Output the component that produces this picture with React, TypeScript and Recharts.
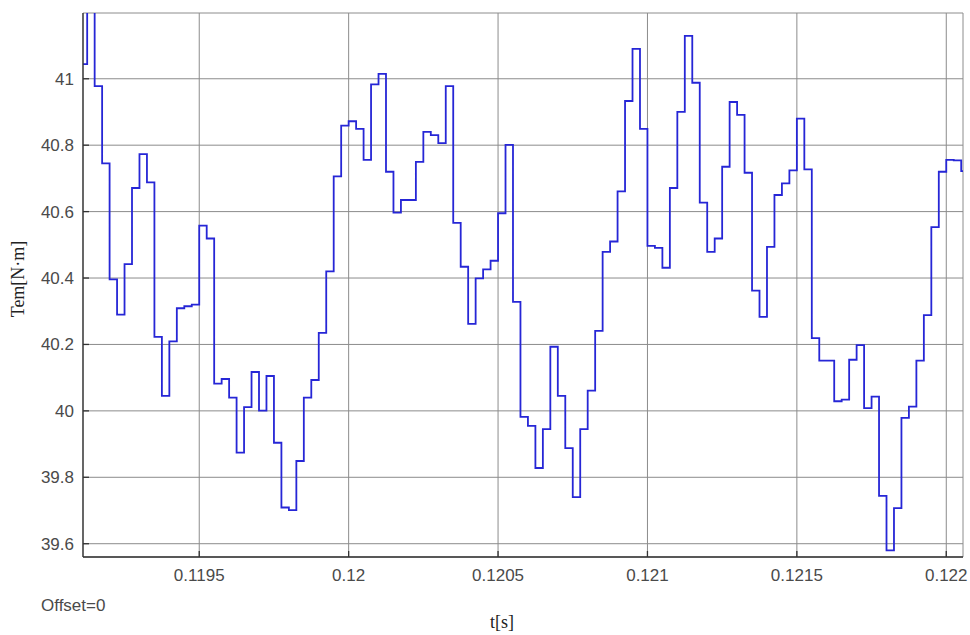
import { CartesianGrid, Line, LineChart, XAxis, YAxis } from "recharts";

// sample grid of the scope trace (fixed step solver output)
const T0 = 0.1191;
const DT = 2.5e-5;

// Tem [N·m], one value per sample
const torque = [
  41.044, 41.3, 40.978, 40.745, 40.396, 40.29, 40.442, 40.671, 40.773, 40.688,
  40.223, 40.045, 40.209, 40.309, 40.315, 40.32, 40.558, 40.519, 40.082, 40.096,
  40.04, 39.874, 40.011, 40.117, 40.001, 40.105, 39.904, 39.709, 39.701, 39.849,
  40.04, 40.093, 40.235, 40.42, 40.706, 40.859, 40.872, 40.849, 40.756, 40.983,
  41.015, 40.72, 40.597, 40.635, 40.635, 40.75, 40.84, 40.83, 40.806, 40.978,
  40.566, 40.434, 40.262, 40.399, 40.426, 40.452, 40.595, 40.801, 40.328, 39.982,
  39.955, 39.828, 39.945, 40.193, 40.045, 39.888, 39.74, 39.945, 40.061, 40.241,
  40.479, 40.51, 40.661, 40.933, 41.09, 40.849, 40.497, 40.491, 40.431, 40.671,
  40.9, 41.129, 40.988, 40.627, 40.479, 40.519, 40.735, 40.93, 40.891, 40.717,
  40.362, 40.283, 40.494, 40.65, 40.685, 40.724, 40.88, 40.727, 40.219, 40.151,
  40.151, 40.029, 40.034, 40.154, 40.198, 40.008, 40.043, 39.744, 39.58, 39.707,
  39.979, 40.013, 40.151, 40.288, 40.553, 40.72, 40.756, 40.754, 40.722, 40.72,
];

const xTicks = [0.1195, 0.12, 0.1205, 0.121, 0.1215, 0.122];
const yTicks = [39.6, 39.8, 40, 40.2, 40.4, 40.6, 40.8, 41];
const xDomain = [0.119111, 0.122056];
const yDomain = [39.56, 41.198];

const data = torque.map((v, i) => ({ t: T0 + i * DT, tem: v }));

const tickFont = {
  fill: "#4a4a4a",
  fontSize: 17,
  fontFamily: "'Liberation Sans', Arial, sans-serif",
};
const serif = "'Liberation Serif', 'Times New Roman', serif";
const axisColor = "#333";

export default function App() {
  return (
    <div style={{ position: "relative", width: 970, height: 635, background: "#fff" }}>
      <style>{"body{margin:0}"}</style>
      <LineChart
        width={970}
        height={635}
        data={data}
        margin={{ top: 13, right: 7, left: 0, bottom: 0 }}
      >
        <CartesianGrid stroke="#8c8c8c" strokeWidth={1} />
        <XAxis
          dataKey="t"
          type="number"
          domain={xDomain}
          allowDataOverflow
          ticks={xTicks}
          interval={0}
          tickFormatter={(v) => String(+v.toFixed(4))}
          tick={tickFont}
          tickSize={-6}
          tickMargin={18}
          stroke={axisColor}
          strokeWidth={1.3}
          height={78}
        />
        <XAxis
          xAxisId="top"
          orientation="top"
          type="number"
          domain={xDomain}
          allowDataOverflow
          ticks={xTicks}
          interval={0}
          tick={false}
          tickSize={-6}
          stroke={axisColor}
          strokeWidth={1.3}
          height={0}
        />
        <YAxis
          type="number"
          domain={yDomain}
          allowDataOverflow
          ticks={yTicks}
          interval={0}
          tickFormatter={(v) => String(+v.toFixed(1))}
          tick={tickFont}
          tickSize={-6}
          tickMargin={15}
          stroke={axisColor}
          strokeWidth={1.3}
          width={83}
        />
        <YAxis
          yAxisId="right"
          orientation="right"
          type="number"
          domain={yDomain}
          allowDataOverflow
          ticks={yTicks}
          interval={0}
          tick={false}
          tickSize={-6}
          stroke={axisColor}
          strokeWidth={1.3}
          width={0}
        />
        <Line
          type="stepAfter"
          dataKey="tem"
          stroke="#2626d6"
          strokeWidth={1.8}
          dot={false}
          isAnimationActive={false}
        />
      </LineChart>
      <svg
        width={970}
        height={635}
        style={{ position: "absolute", left: 0, top: 0, pointerEvents: "none" }}
      >
        <text x={41} y={611} fill="#4a4a4a" fontSize={17} fontFamily={tickFont.fontFamily}>
          Offset=0
        </text>
        <text x={502} y={628} textAnchor="middle" fill="#222" fontSize={18} fontFamily={serif}>
          t[s]
        </text>
        <text
          x={23.5}
          y={279}
          textAnchor="middle"
          fill="#222"
          fontSize={18}
          fontFamily={serif}
          transform="rotate(-90 23.5 279)"
        >
          Tem[N·m]
        </text>
      </svg>
    </div>
  );
}
